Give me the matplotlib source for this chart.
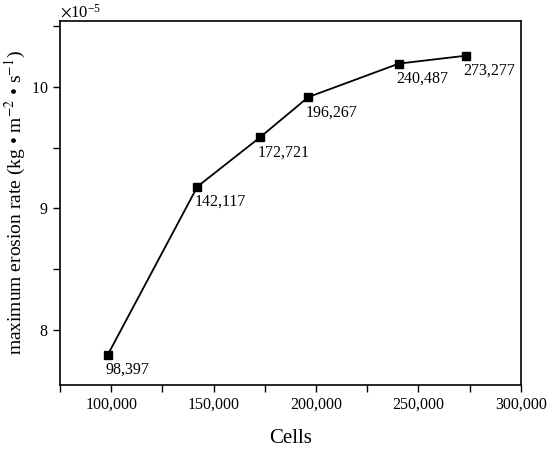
import matplotlib
matplotlib.use("Agg")
import matplotlib.pyplot as plt
from matplotlib.ticker import MultipleLocator, FuncFormatter, ScalarFormatter

cells = [98397, 142117, 172721, 196267, 240487, 273277]
rate = [7.80e-5, 9.18e-5, 9.585e-5, 9.915e-5, 10.19e-5, 10.255e-5]
labels = ["98,397", "142,117", "172,721", "196,267", "240,487", "273,277"]
xticks = [100000, 150000, 200000, 250000, 300000]

plt.rcParams['font.family'] = ['Liberation Serif', 'DejaVu Serif']
plt.rcParams['mathtext.fontset'] = 'stix'

fig = plt.figure(figsize=(5.5, 4.5), dpi=100)
ax = fig.add_axes([0.109, 0.1444, 0.838, 0.809])

ax.plot(cells, rate, color='black', lw=1.3, marker='s', markersize=6, markerfacecolor='black')
for x, y, t in zip(cells, rate, labels):
    ax.annotate(t, (x, y), xytext=(-2, -11), textcoords='offset points',
                ha='left', va='center', fontsize=11.5)

ax.set_xlim(75000, 300000)
ax.set_ylim(7.55e-5, 10.54e-5)
ax.set_xticks(xticks)
ax.xaxis.set_minor_locator(MultipleLocator(25000))
ax.xaxis.set_major_formatter(FuncFormatter(lambda v, p: f"{int(v):,}"))
ax.yaxis.set_major_locator(MultipleLocator(1e-5))
ax.yaxis.set_minor_locator(MultipleLocator(0.5e-5))
sf = ScalarFormatter(useMathText=True)
sf.set_powerlimits((-5, -5))
ax.yaxis.set_major_formatter(sf)
ax.yaxis.get_offset_text().set_fontsize(12)

ax.tick_params(which='both', direction='out', width=1.0, labelsize=11.5)
ax.tick_params(which='major', length=5)
ax.tick_params(which='minor', length=5)
for s in ax.spines.values():
    s.set_linewidth(1.2)

ax.set_xlabel("Cells", fontsize=15, labelpad=12)
ax.set_ylabel("maximum erosion rate (kg • m$^{-2}$ • s$^{-1}$)", fontsize=14, labelpad=2)

fig.savefig("out.png", dpi=100)
